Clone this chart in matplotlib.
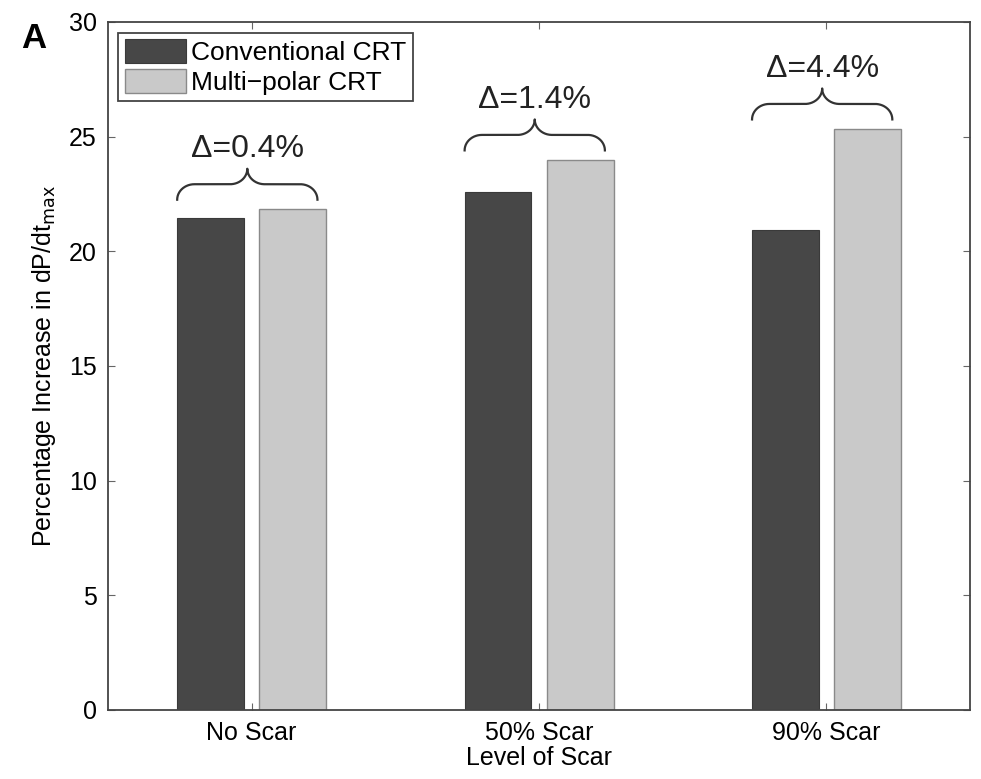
import matplotlib.pyplot as plt
import numpy as np

plt.rcParams['font.family'] = ['Liberation Sans', 'DejaVu Sans']

categories = ['No Scar', '50% Scar', '90% Scar']
conventional = [21.45, 22.6, 20.95]
multipolar = [21.85, 24.0, 25.35]
delta_labels = ['\u0394=0.4%', '\u0394=1.4%', '\u0394=4.4%']

dark = '#474747'
light = '#c9c9c9'


def brace(ax, x0, x1, y, h, rx=0.06):
    # curly brace built from quarter ellipses: ends at y, tip at y + h
    xc = (x0 + x1) / 2
    t = np.linspace(0, np.pi / 2, 40)
    hh = h / 2
    # left hook: vertical at x0, horizontal at top
    lx = x0 + rx - rx * np.cos(t)
    ly = y + hh * np.sin(t)
    # rise to tip: horizontal at flat, vertical at tip
    tx = xc - rx + rx * np.sin(t)
    ty = y + hh + hh * (1 - np.cos(t))
    xs = np.concatenate((lx, tx))
    ys = np.concatenate((ly, ty))
    xs = np.concatenate((xs, 2 * xc - xs[::-1]))
    ys = np.concatenate((ys, ys[::-1]))
    ax.plot(xs, ys, color='#333333', lw=1.6, clip_on=False)


fig = plt.figure(figsize=(9.81, 7.79), dpi=100)
ax = fig.add_axes([0.110, 0.0886, 0.879, 0.8832])

pos = np.arange(1, len(categories) + 1)
w = 0.232
off = 0.143
ax.bar(pos - off, conventional, w, color=dark, edgecolor='#3a3a3a', lw=0.8, label='Conventional CRT')
ax.bar(pos + off, multipolar, w, color=light, edgecolor='#8a8a8a', lw=1.0, label='Multi\u2212polar CRT')

for i in range(len(categories)):
    x0 = pos[i] - off - w / 2
    x1 = pos[i] + off + w / 2 - 0.03
    top = max(conventional[i], multipolar[i])
    base = top + 0.4
    h = 1.35
    brace(ax, x0, x1, base, h)
    ax.text((x0 + x1) / 2, base + h + 0.5, delta_labels[i], ha='center', va='baseline',
            fontsize=23, color='#222222')

ax.set_xlim(0.5, 3.5)
ax.set_ylim(0, 30)
ax.set_xticks(pos)
ax.set_xticklabels(categories)
ax.set_yticks(np.arange(0, 31, 5))
ax.tick_params(direction='in', top=True, right=True, labelsize=18, length=5, color='#666666', pad=8)
for s in ax.spines.values():
    s.set_color('#444444')
    s.set_linewidth(1.3)

ax.set_ylabel('Percentage Increase in dP/dt$_{\\rm max}$', fontsize=18, labelpad=8)
ax.set_xlabel('Level of Scar', fontsize=18, labelpad=1)

leg = ax.legend(loc='upper left', fontsize=19, handlelength=2.3, handleheight=1.0,
                fancybox=False, framealpha=1, edgecolor='#444444', borderpad=0.25,
                labelspacing=0.15, handletextpad=0.2, borderaxespad=0.4)
leg.get_frame().set_linewidth(1.3)

fig.text(0.022, 0.938, 'A', fontsize=25, fontweight='bold')

fig.savefig('out.png', dpi=100)
